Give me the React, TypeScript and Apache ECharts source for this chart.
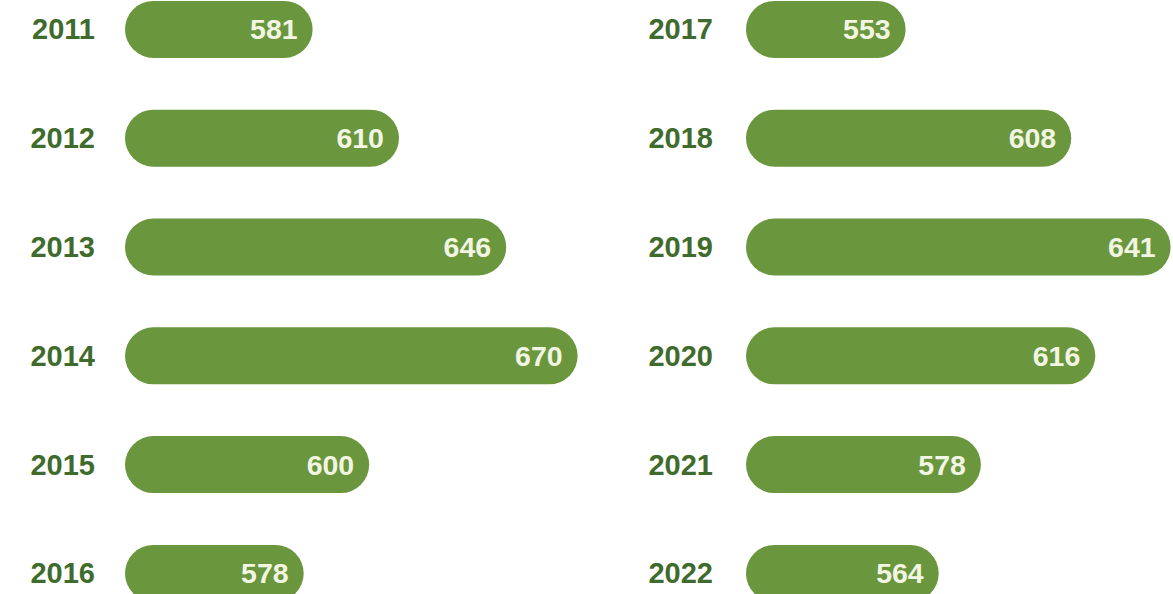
import React, { useEffect, useRef } from "react";
import * as echarts from "echarts";

const leftYears = ["2011", "2012", "2013", "2014", "2015", "2016"];
const leftValues = [581, 610, 646, 670, 600, 578];
const rightYears = ["2017", "2018", "2019", "2020", "2021", "2022"];
const rightValues = [553, 608, 641, 616, 578, 564];

const BAR = "#6a963e";
const YEAR = "#3f6b2c";
const VAL = "#f1f5e2";
const FONT = "'Liberation Sans', Arial, sans-serif";

export default function App() {
  const ref = useRef<HTMLDivElement>(null);
  useEffect(() => {
    document.body.style.margin = "0";
    document.body.style.overflow = "hidden";
    if (!ref.current) return;
    const chart = echarts.init(ref.current, undefined, { renderer: "svg" });
    const yAxisBase = (data: string[], margin: number, idx: number) => ({
      type: "category",
      gridIndex: idx,
      data,
      inverse: true,
      axisLine: { show: false },
      axisTick: { show: false },
      splitLine: { show: false },
      axisLabel: {
        margin,
        color: YEAR,
        fontSize: 29,
        fontWeight: "bold",
        fontFamily: FONT,
      },
    });
    const xAxisBase = (min: number, max: number, idx: number) => ({
      type: "value",
      gridIndex: idx,
      min,
      max,
      show: false,
      splitLine: { show: false },
    });
    const seriesBase = (data: number[], idx: number) => ({
      type: "bar",
      xAxisIndex: idx,
      yAxisIndex: idx,
      data,
      barWidth: 57,
      itemStyle: { color: BAR, borderRadius: 28.5 },
      label: {
        show: true,
        position: "insideRight",
        distance: 15,
        color: VAL,
        fontSize: 28.5,
        fontWeight: "bold",
        fontFamily: FONT,
      },
    });
    chart.setOption({
      animation: false,
      grid: [
        { left: 125, top: 0, width: 542, height: 652.8 },
        { left: 746, top: 0, width: 427, height: 652.8 },
      ],
      xAxis: [xAxisBase(518, 700, 0), xAxisBase(500, 641.8, 1)],
      yAxis: [yAxisBase(leftYears, 30, 0), yAxisBase(rightYears, 33, 1)],
      series: [seriesBase(leftValues, 0), seriesBase(rightValues, 1)],
    });
    return () => chart.dispose();
  }, []);
  return (
    <div style={{ width: 1173, height: 594, overflow: "hidden", position: "relative" }}>
      <div ref={ref} style={{ position: "absolute", left: 0, top: -25.4, width: 1173, height: 653 }} />
    </div>
  );
}
